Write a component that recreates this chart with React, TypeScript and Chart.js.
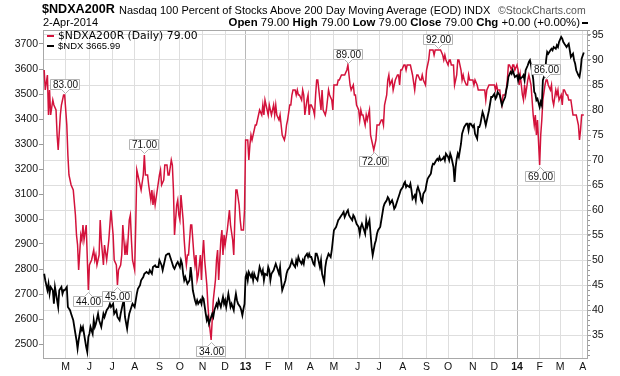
import React, { useEffect, useRef } from "react";
import { Chart, registerables } from "chart.js";

Chart.register(...registerables);

// ---- data (x = trading-day index starting 2-Apr-2012) ----
const MONTH_IDX = [20, 42, 63, 84, 107, 126, 147, 168, 187, 208, 227, 247, 269, 291, 311, 333, 355, 375, 398, 418, 439, 460, 479, 500];
const MONTH_LABELS = ["M", "J", "J", "A", "S", "O", "N", "D", "13", "F", "M", "A", "M", "J", "J", "A", "S", "O", "N", "D", "14", "F", "M", "A"];

const PCT_TICKS = [35, 40, 45, 50, 55, 60, 65, 70, 75, 80, 85, 90, 95];
const NDX_TICKS = [2500, 2600, 2700, 2800, 2900, 3000, 3100, 3200, 3300, 3400, 3500, 3600, 3700];

// $NDXA200R (percent above 200 DMA)
const PCT_IDX = [0, 1, 3, 4, 5, 6, 8, 9, 11, 12, 13, 15, 16, 18, 19, 21, 22, 23, 25, 27, 29, 30, 31, 32, 34, 35, 36, 37, 39, 41, 42, 44, 45, 46, 47, 48, 49, 51, 52, 53, 55, 56, 58, 60, 61, 62, 64, 65, 67, 68, 69, 71, 72, 73, 75, 76, 77, 79, 80, 81, 82, 84, 85, 86, 87, 89, 90, 92, 93, 94, 96, 97, 99, 100, 101, 102, 103, 105, 107, 108, 109, 111, 112, 114, 115, 116, 118, 119, 120, 121, 123, 124, 125, 126, 127, 129, 130, 131, 132, 133, 134, 136, 137, 139, 140, 141, 142, 143, 145, 146, 147, 148, 149, 151, 152, 153, 155, 156, 157, 159, 160, 161, 162, 164, 165, 166, 167, 168, 170, 171, 172, 173, 175, 176, 177, 178, 179, 181, 182, 183, 185, 186, 187, 189, 190, 191, 192, 193, 195, 196, 197, 199, 200, 202, 203, 204, 205, 207, 208, 209, 210, 211, 213, 214, 215, 216, 218, 219, 220, 221, 223, 224, 225, 226, 228, 229, 230, 231, 233, 234, 235, 236, 237, 239, 240, 241, 242, 244, 245, 246, 247, 248, 250, 251, 252, 253, 254, 256, 257, 258, 259, 261, 262, 263, 264, 265, 267, 268, 269, 271, 272, 273, 274, 276, 277, 278, 279, 281, 282, 283, 284, 285, 287, 288, 289, 290, 292, 293, 294, 295, 296, 298, 299, 300, 302, 303, 304, 305, 306, 308, 309, 310, 311, 313, 314, 315, 316, 318, 319, 320, 321, 323, 324, 325, 326, 328, 329, 330, 331, 332, 334, 335, 336, 337, 339, 340, 341, 342, 344, 345, 346, 347, 349, 350, 351, 352, 354, 355, 356, 357, 358, 360, 361, 362, 363, 365, 366, 367, 368, 370, 371, 372, 373, 375, 376, 377, 378, 380, 381, 382, 383, 384, 385, 387, 388, 389, 390, 392, 393, 394, 395, 397, 398, 399, 400, 402, 403, 404, 405, 406, 408, 409, 410, 411, 413, 414, 415, 416, 418, 419, 420, 421, 423, 424, 425, 426, 428, 429, 430, 431, 432, 434, 435, 436, 437, 439, 440, 441, 442, 444, 445, 446, 447, 449, 450, 451, 452, 454, 455, 456, 457, 458, 460, 461, 462, 463, 465, 466, 467, 468, 470, 471, 472, 473, 475, 476, 477, 478, 480, 481, 482, 483, 485, 486, 487, 488, 489, 491, 492, 493, 494, 496, 497, 498, 499, 501];
const PCT_VAL = [88, 84, 87, 79, 84, 79, 82, 81, 80, 75, 72, 79, 81, 83, 83, 77, 71, 67, 65, 64, 59, 55, 53, 48, 55, 54, 57, 54, 57, 44, 49, 50, 51, 52, 50, 51, 49, 51, 58, 54, 49, 53, 50, 54, 57, 60, 55, 50, 49, 45, 48, 49, 51, 57, 51, 53, 51, 58, 59, 54, 50, 48, 57, 68, 67, 65, 64, 67, 71, 67, 67, 65, 62, 64, 61, 63, 61, 64, 67, 68, 65, 66, 69, 69, 67, 67, 70, 69, 64, 55, 61, 62, 59, 58, 63, 58, 54, 51, 49, 51, 51, 57, 57, 51, 49, 51, 46, 47, 51, 46, 51, 54, 50, 45, 41, 38, 34, 38, 42, 46, 50, 52, 46, 54, 56, 51, 55, 53, 56, 58, 60, 57, 54, 51, 58, 64, 64, 61, 58, 56, 56, 60, 74, 74, 70, 73, 75, 74, 76, 77, 77, 79, 80, 79, 81, 79, 82, 80, 79, 81, 80, 79, 81, 79, 81, 79, 78, 79, 77, 75, 74, 75, 77, 78, 81, 81, 83, 84, 84, 83, 84, 83, 83, 82, 84, 83, 79, 82, 83, 79, 81, 81, 80, 79, 83, 86, 86, 82, 80, 84, 80, 79, 80, 82, 84, 83, 82, 80, 85, 85, 85, 86, 86, 87, 87, 87, 87, 88, 89, 87, 85, 84, 85, 83, 83, 81, 80, 78, 80, 79, 79, 77, 79, 78, 80, 75, 74, 73, 72, 74, 77, 77, 77, 78, 78, 77, 81, 83, 86, 87, 85, 86, 84, 85, 86, 87, 87, 85, 88, 88, 89, 89, 88, 89, 89, 89, 88, 87, 84, 86, 87, 87, 86, 86, 87, 86, 85, 88, 89, 90, 92, 92, 92, 91, 92, 92, 92, 92, 92, 91, 90, 91, 90, 89, 90, 90, 89, 89, 85, 86, 87, 90, 90, 88, 86, 87, 86, 85, 85, 87, 86, 86, 86, 85, 86, 85, 84, 84, 84, 84, 84, 84, 82, 84, 85, 85, 85, 85, 85, 84, 85, 84, 84, 82, 81, 83, 83, 84, 86, 89, 89, 88, 89, 89, 88, 89, 88, 85, 87, 83, 82, 85, 83, 86, 87, 86, 85, 79, 77, 79, 75, 78, 69, 75, 78, 82, 85, 86, 86, 85, 84, 85, 82, 81, 84, 83, 84, 82, 83, 81, 84, 84, 83, 83, 82, 82, 82, 79, 79, 79, 79, 77, 74, 76, 79, 79];

// $NDX
const NDX_IDX = [0, 1, 3, 4, 5, 6, 8, 9, 10, 11, 13, 14, 16, 17, 18, 19, 21, 22, 24, 25, 27, 29, 30, 31, 32, 34, 35, 36, 37, 39, 40, 41, 42, 43, 45, 46, 47, 48, 50, 51, 53, 55, 56, 58, 60, 61, 62, 64, 65, 67, 68, 70, 71, 73, 74, 75, 77, 78, 79, 81, 82, 84, 86, 87, 89, 90, 92, 93, 95, 97, 98, 100, 101, 103, 104, 106, 107, 109, 110, 112, 113, 115, 116, 118, 120, 121, 123, 124, 126, 127, 128, 129, 130, 131, 133, 135, 136, 137, 138, 140, 141, 142, 143, 145, 146, 147, 148, 150, 151, 152, 153, 154, 156, 157, 158, 160, 161, 162, 163, 164, 166, 167, 168, 169, 171, 172, 173, 174, 176, 177, 178, 179, 180, 182, 183, 184, 185, 186, 187, 188, 189, 190, 192, 193, 194, 195, 196, 198, 199, 200, 202, 203, 204, 205, 207, 208, 209, 210, 211, 213, 214, 215, 216, 218, 219, 220, 221, 223, 224, 225, 226, 228, 229, 230, 231, 233, 234, 235, 236, 237, 239, 240, 241, 242, 244, 245, 246, 247, 248, 250, 251, 252, 253, 254, 256, 257, 258, 260, 261, 262, 263, 264, 266, 267, 268, 269, 271, 272, 273, 274, 275, 277, 278, 279, 281, 282, 283, 284, 286, 287, 288, 289, 290, 292, 293, 294, 295, 297, 298, 299, 300, 302, 303, 304, 305, 307, 308, 309, 310, 312, 313, 314, 315, 316, 318, 319, 320, 321, 323, 324, 325, 326, 328, 329, 330, 331, 333, 334, 335, 336, 337, 339, 340, 341, 342, 344, 345, 346, 347, 349, 350, 351, 352, 354, 355, 356, 357, 359, 360, 361, 362, 364, 365, 366, 367, 368, 370, 371, 372, 373, 375, 376, 377, 378, 380, 381, 382, 383, 384, 385, 387, 388, 389, 390, 392, 393, 394, 395, 396, 398, 399, 400, 402, 403, 404, 405, 407, 408, 409, 410, 412, 413, 414, 415, 416, 418, 419, 420, 421, 423, 424, 425, 426, 428, 429, 430, 431, 433, 434, 435, 436, 437, 439, 440, 441, 442, 444, 445, 446, 447, 449, 450, 451, 452, 454, 455, 456, 457, 458, 460, 461, 462, 463, 465, 466, 467, 468, 470, 471, 472, 473, 475, 476, 477, 478, 480, 481, 482, 483, 485, 486, 487, 488, 489, 491, 492, 493, 494, 496, 497, 498, 499, 501];
const NDX_VAL = [2781, 2755, 2715, 2741, 2701, 2728, 2715, 2661, 2728, 2701, 2648, 2715, 2728, 2701, 2715, 2715, 2728, 2648, 2635, 2621, 2595, 2541, 2515, 2481, 2515, 2568, 2555, 2568, 2541, 2488, 2468, 2528, 2541, 2568, 2541, 2595, 2568, 2581, 2621, 2595, 2568, 2621, 2608, 2635, 2648, 2661, 2648, 2661, 2621, 2635, 2608, 2595, 2621, 2661, 2675, 2608, 2561, 2595, 2621, 2648, 2661, 2648, 2701, 2721, 2735, 2755, 2768, 2781, 2788, 2781, 2795, 2781, 2808, 2815, 2808, 2808, 2835, 2815, 2795, 2835, 2855, 2861, 2861, 2835, 2808, 2801, 2821, 2828, 2808, 2835, 2821, 2781, 2755, 2768, 2741, 2755, 2808, 2768, 2715, 2675, 2661, 2675, 2661, 2675, 2661, 2688, 2681, 2621, 2595, 2608, 2581, 2595, 2621, 2608, 2635, 2661, 2648, 2675, 2661, 2648, 2688, 2661, 2675, 2648, 2701, 2675, 2648, 2661, 2635, 2675, 2701, 2675, 2661, 2648, 2635, 2615, 2640, 2660, 2768, 2781, 2755, 2788, 2768, 2781, 2755, 2781, 2768, 2755, 2781, 2808, 2781, 2795, 2755, 2781, 2775, 2808, 2795, 2755, 2781, 2795, 2808, 2821, 2808, 2781, 2808, 2755, 2715, 2741, 2755, 2781, 2795, 2808, 2821, 2835, 2821, 2808, 2835, 2821, 2848, 2835, 2821, 2835, 2821, 2848, 2861, 2848, 2861, 2848, 2848, 2821, 2815, 2861, 2861, 2848, 2808, 2835, 2781, 2748, 2808, 2835, 2848, 2861, 2848, 2875, 2915, 2955, 2968, 2981, 2995, 3001, 3008, 3021, 3028, 3008, 3028, 3035, 3015, 3008, 2995, 3015, 3008, 2995, 2981, 2968, 2941, 2968, 2981, 2955, 2941, 2995, 2968, 2995, 2941, 2888, 2855, 2901, 2915, 2941, 2955, 2968, 2995, 3021, 3048, 3061, 3075, 3088, 3081, 3061, 3075, 3061, 3041, 3048, 3075, 3088, 3101, 3115, 3128, 3141, 3148, 3128, 3135, 3128, 3141, 3115, 3081, 3095, 3075, 3115, 3128, 3101, 3075, 3068, 3101, 3115, 3141, 3161, 3168, 3181, 3208, 3221, 3219, 3235, 3241, 3235, 3248, 3235, 3241, 3248, 3235, 3261, 3248, 3235, 3261, 3248, 3208, 3148, 3208, 3241, 3261, 3248, 3301, 3341, 3355, 3368, 3381, 3381, 3355, 3381, 3381, 3368, 3375, 3341, 3321, 3368, 3368, 3381, 3428, 3415, 3395, 3375, 3415, 3435, 3461, 3488, 3488, 3501, 3481, 3488, 3508, 3495, 3475, 3455, 3468, 3488, 3515, 3535, 3568, 3588, 3581, 3595, 3581, 3568, 3575, 3555, 3575, 3561, 3568, 3575, 3555, 3595, 3615, 3628, 3635, 3615, 3561, 3508, 3501, 3475, 3481, 3448, 3468, 3455, 3555, 3581, 3635, 3668, 3661, 3675, 3681, 3675, 3688, 3681, 3695, 3688, 3708, 3728, 3721, 3708, 3701, 3688, 3695, 3701, 3675, 3648, 3661, 3635, 3621, 3595, 3575, 3568, 3595, 3641, 3666];

// high/low call-outs on $NDXA200R
const NOTE_IDX = [19, 41, 68, 93, 155, 282, 306, 366, 460, 466];
const NOTE_VAL = [83, 44, 45, 71, 34, 89, 72, 92, 69, 86];
const NOTE_UP = [true, false, false, true, false, true, false, true, false, true];

const RED = "#d3123b";
const SANS = "'Liberation Sans', Arial, sans-serif";

export default function App() {
  const ref = useRef<HTMLCanvasElement>(null);

  useEffect(() => {
    const canvas = ref.current;
    if (!canvas) return;

    const framePlugin = {
      id: "frame",
      beforeDatasetsDraw(chart: any) {
        const { ctx, chartArea: a } = chart;
        ctx.save();
        ctx.strokeStyle = "#a8a8a8";
        ctx.lineWidth = 1;
        ctx.strokeRect(Math.round(a.left) + 0.5, Math.round(a.top) + 0.5, Math.round(a.right - a.left) - 1, Math.round(a.bottom - a.top) - 1);
        // minor ticks on right axis
        const y1 = chart.scales.y1;
        ctx.strokeStyle = "#9a9a9a";
        for (let v = 31; v <= 96; v++) {
          const py = Math.round(y1.getPixelForValue(v)) + 0.5;
          ctx.beginPath();
          ctx.moveTo(a.right, py);
          ctx.lineTo(a.right + 2, py);
          ctx.stroke();
        }
        ctx.restore();
      },
    };

    const notePlugin = {
      id: "notes",
      afterDatasetsDraw(chart: any) {
        const { ctx } = chart;
        const xs = chart.scales.x;
        const ys = chart.scales.y1;
        ctx.save();
        ctx.font = `10px ${SANS}`;
        ctx.textAlign = "center";
        ctx.textBaseline = "middle";
        NOTE_IDX.forEach((ix, i) => {
          const txt = NOTE_VAL[i].toFixed(2);
          const px = Math.round(xs.getPixelForValue(ix));
          const py = Math.round(ys.getPixelForValue(NOTE_VAL[i]));
          const w = Math.round(ctx.measureText(txt).width) + 4;
          const h = 10;
          const gap = 6;
          const left = px - Math.round(w / 2) + 0.5;
          const right = left + w;
          let top: number, bottom: number;
          ctx.beginPath();
          if (NOTE_UP[i]) {
            bottom = py - gap + 0.5;
            top = bottom - h;
            ctx.moveTo(left, top);
            ctx.lineTo(right, top);
            ctx.lineTo(right, bottom);
            ctx.lineTo(px + 4.5, bottom);
            ctx.lineTo(px + 0.5, bottom + 4);
            ctx.lineTo(px - 3.5, bottom);
            ctx.lineTo(left, bottom);
          } else {
            top = py + gap + 0.5;
            bottom = top + h;
            ctx.moveTo(left, top);
            ctx.lineTo(px - 3.5, top);
            ctx.lineTo(px + 0.5, top - 4);
            ctx.lineTo(px + 4.5, top);
            ctx.lineTo(right, top);
            ctx.lineTo(right, bottom);
            ctx.lineTo(left, bottom);
          }
          ctx.closePath();
          ctx.fillStyle = "#ffffff";
          ctx.fill();
          ctx.strokeStyle = "#b4b4b4";
          ctx.lineWidth = 1;
          ctx.stroke();
          ctx.fillStyle = "#111";
          ctx.fillText(txt, px + 0.5, (top + bottom) / 2 + 0.5);
        });
        ctx.restore();
      },
    };

    const chart = new Chart(canvas, {
      type: "line",
      data: {
        datasets: [
          {
            label: "$NDX",
            data: NDX_IDX.map((x, i) => ({ x, y: NDX_VAL[i] })),
            yAxisID: "y",
            borderColor: "#000000",
            borderWidth: 1.8,
            pointRadius: 0,
            tension: 0,
            order: 0,
          },
          {
            label: "$NDXA200R",
            data: PCT_IDX.map((x, i) => ({ x, y: PCT_VAL[i] })),
            yAxisID: "y1",
            borderColor: RED,
            borderWidth: 1.5,
            pointRadius: 0,
            tension: 0,
            order: 1,
          },
        ],
      },
      options: {
        responsive: false,
        animation: false,
        devicePixelRatio: 1,
        layout: { padding: { top: 30, left: 0, right: 0, bottom: 0 } },
        plugins: { legend: { display: false }, tooltip: { enabled: false } },
        scales: {
          x: {
            type: "linear",
            min: -1.1,
            max: 504.9,
            afterBuildTicks: (s: any) => {
              s.ticks = MONTH_IDX.map((v) => ({ value: v }));
            },
            afterFit: (s: any) => {
              s.height = 17;
            },
            ticks: {
              autoSkip: false,
              maxRotation: 0,
              padding: 2,
              color: "#111",
              callback: (_v: any, i: number) => MONTH_LABELS[i],
              font: (c: any) => ({
                family: SANS,
                size: 10.5,
                weight: /^\d/.test(MONTH_LABELS[c.index] || "") ? "bold" : "normal",
              }),
            },
            grid: {
              drawTicks: false,
              color: (c: any) => (/^\d/.test(MONTH_LABELS[c.index] || "") ? "#b8b8b8" : "#dedede"),
              lineWidth: 1,
            },
            border: { display: false },
          },
          y: {
            type: "linear",
            position: "left",
            min: 2440,
            max: 3756,
            afterBuildTicks: (s: any) => {
              s.ticks = NDX_TICKS.map((v) => ({ value: v }));
            },
            afterFit: (s: any) => {
              s.width = 43;
            },
            ticks: {
              padding: 1,
              color: "#111",
              font: { family: SANS, size: 10.5 },
              callback: (v: any) => String(v),
            },
            grid: { drawOnChartArea: false, drawTicks: true, tickLength: 4, color: "#999" },
            border: { display: false },
          },
          y1: {
            type: "linear",
            position: "right",
            min: 30.2,
            max: 96,
            afterBuildTicks: (s: any) => {
              s.ticks = PCT_TICKS.map((v) => ({ value: v }));
            },
            afterFit: (s: any) => {
              s.width = 32;
            },
            ticks: {
              padding: 1,
              color: "#111",
              font: { family: SANS, size: 10.5 },
              callback: (v: any) => String(v),
            },
            grid: { drawOnChartArea: true, drawTicks: true, tickLength: 3, color: "#dedede", tickColor: "#999" },
            border: { display: false },
          },
        },
      },
      plugins: [framePlugin, notePlugin],
    } as any);

    return () => chart.destroy();
  }, []);

  const abs = (o: React.CSSProperties): React.CSSProperties => ({ position: "absolute", whiteSpace: "nowrap", lineHeight: 1, ...o });

  return (
    <div style={{ position: "fixed", left: 0, top: 0, width: 620, height: 376, background: "#fff", fontFamily: SANS, color: "#000" }}>
      <canvas ref={ref} width={620} height={376} style={{ position: "absolute", left: 0, top: 0, width: 620, height: 376 }} />
      <div style={abs({ left: 42, top: 3, fontSize: 12.6, fontWeight: "bold" })}>$NDXA200R</div>
      <div style={abs({ left: 119, top: 4.5, fontSize: 11 })}>Nasdaq 100 Percent of Stocks Above 200 Day Moving Average (EOD)</div>
      <div style={abs({ left: 464, top: 4.5, fontSize: 11 })}>INDX</div>
      <div style={abs({ left: 498, top: 4.5, fontSize: 10.5, color: "#555" })}>©StockCharts.com</div>
      <div style={abs({ left: 43, top: 17, fontSize: 11 })}>2-Apr-2014</div>
      <div style={abs({ right: 40, top: 17, fontSize: 11.4 })}>
        <b>Open</b> 79.00 <b>High</b> 79.00 <b>Low</b> 79.00 <b>Close</b> 79.00 <b>Chg</b> +0.00 (+0.00%)
      </div>
      <div style={abs({ left: 582, top: 22, width: 6, height: 2, background: "#000" })} />
      <div style={abs({ left: 47, top: 35, width: 7, height: 2, background: RED })} />
      <div style={abs({ left: 58, top: 31, fontSize: 10.8, fontFamily: "'DejaVu Sans', sans-serif" })}>$NDXA200R (Daily) 79.00</div>
      <div style={abs({ left: 47, top: 45, width: 7, height: 2, background: "#000" })} />
      <div style={abs({ left: 58, top: 41, fontSize: 9.5 })}>$NDX 3665.99</div>
    </div>
  );
}
